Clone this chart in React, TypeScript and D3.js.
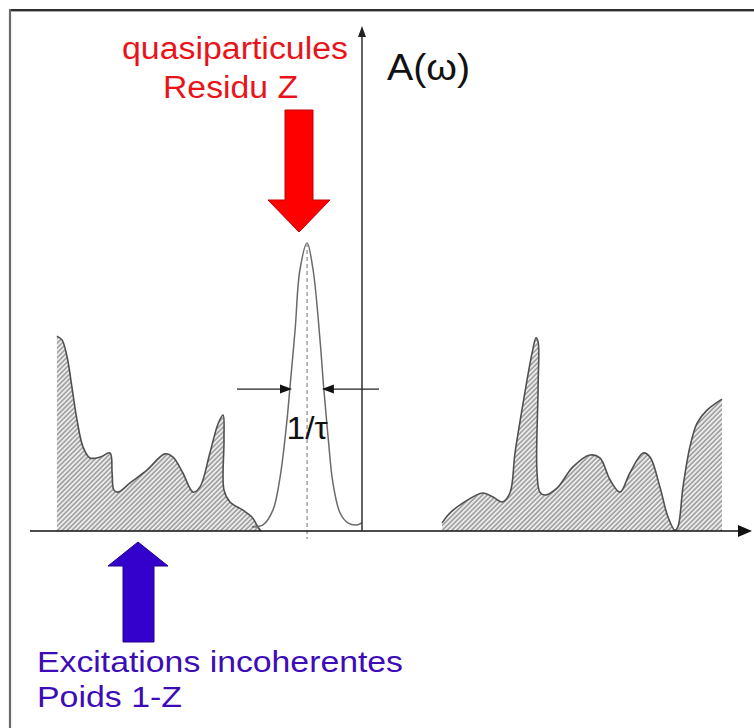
import React from "react";
import * as d3 from "d3";

// ---- data (ω in arbitrary units, A(ω) normalised) ----
const incoherentLeft: [number, number][] = [
  [-10.17, 0.672], [-10.0, 0.659], [-9.83, 0.6], [-9.67, 0.497], [-9.5, 0.383],
  [-9.3, 0.29], [-9.07, 0.252], [-8.73, 0.255], [-8.4, 0.269], [-8.33, 0.2],
  [-8.27, 0.141], [-8.13, 0.134], [-7.73, 0.166], [-7.17, 0.21], [-6.57, 0.266],
  [-6.3, 0.255], [-5.97, 0.2], [-5.63, 0.134], [-5.4, 0.152], [-5.07, 0.269],
  [-4.8, 0.369], [-4.63, 0.4], [-4.6, 0.314], [-4.6, 0.141], [-4.4, 0.1],
  [-3.97, 0.072], [-3.67, 0.048], [-3.47, 0.014], [-3.37, 0.0],
];

const quasiparticlePeak: [number, number][] = [
  [-3.67, 0.014], [-3.3, 0.021], [-2.97, 0.072], [-2.73, 0.186], [-2.5, 0.383],
  [-2.4, 0.497], [-2.23, 0.693], [-2.07, 0.9], [-1.83, 0.993], [-1.63, 0.9],
  [-1.4, 0.659], [-1.27, 0.486], [-1.13, 0.324], [-0.97, 0.166], [-0.73, 0.062],
  [-0.47, 0.028], [-0.17, 0.021], [0.0, 0.028],
];

const incoherentRight: [number, number][] = [
  [2.67, 0.028], [2.93, 0.062], [3.37, 0.097], [4.03, 0.131], [4.37, 0.117],
  [4.67, 0.1], [4.93, 0.131], [5.1, 0.269], [5.37, 0.441], [5.67, 0.614],
  [5.8, 0.666], [5.87, 0.652], [5.87, 0.497], [5.83, 0.21], [5.93, 0.134],
  [6.1, 0.124], [6.5, 0.148], [7.03, 0.221], [7.6, 0.262], [7.93, 0.252],
  [8.27, 0.176], [8.6, 0.134], [8.93, 0.2], [9.37, 0.269], [9.6, 0.255],
  [9.93, 0.152], [10.2, 0.048], [10.43, 0.003], [10.53, 0.014], [10.7, 0.152],
  [10.93, 0.29], [11.17, 0.372], [11.5, 0.417], [12.0, 0.455],
];

const peakCenter = -1.83;
const halfWidthLeft = -2.4;
const halfWidthRight = -1.27;
const halfLevel = 0.486;

const axisLabel = "A(ω)";
const widthLabel = "1/τ";
const qpLabels = ["quasiparticules", "Residu Z"];
const incLabels = ["Excitations incoherentes", "Poids 1-Z"];

const W = 754;
const H = 728;

export default function App() {
  const x = d3.scaleLinear().domain([-11, 13]).range([32, 752]);
  const y = d3.scaleLinear().domain([0, 1]).range([531, 241]);

  const line = d3
    .line<[number, number]>()
    .x((d) => x(d[0]))
    .y((d) => y(d[1]))
    .curve(d3.curveCatmullRom.alpha(0.5));

  const regionFill = (pts: [number, number][]) => {
    const first = pts[0];
    const last = pts[pts.length - 1];
    return (
      `M${x(first[0])},${y(0)}` +
      (line(pts) as string).replace(/^M/, "L") +
      `L${x(last[0])},${y(0)}Z`
    );
  };

  const font = "'Liberation Sans', Arial, sans-serif";
  const red = "#e8141a";
  const purple = "#3d0cb8";

  const x0 = x(0);
  const yBase = y(0);
  const pc = x(peakCenter);
  const hy = y(halfLevel) - 1;
  const hl = x(halfWidthLeft);
  const hr = x(halfWidthRight);

  return (
    <svg
      width={W}
      height={H}
      style={{ position: "absolute", left: 0, top: 0, background: "#fff" }}
    >
      <defs>
        <pattern
          id="hatch"
          patternUnits="userSpaceOnUse"
          width={3.4}
          height={3.4}
          patternTransform="rotate(45)"
        >
          <rect width={3.4} height={3.4} fill="#ececec" />
          <line x1={0.9} y1={0} x2={0.9} y2={3.4} stroke="#858585" strokeWidth={1.2} />
        </pattern>
      </defs>

      {/* frame */}
      <line x1={9} y1={10} x2={W} y2={10} stroke="#2e2e2e" strokeWidth={2} />
      <line x1={W} y1={11.5} x2={9} y2={11.5} stroke="#aaa" strokeWidth={1} />
      <line x1={10} y1={9} x2={10} y2={H} stroke="#6a6a6a" strokeWidth={2.2} />

      {/* incoherent regions */}
      {[incoherentLeft, incoherentRight].map((pts, i) => (
        <g key={i}>
          <path d={regionFill(pts)} fill="url(#hatch)" stroke="none" />
          <path d={line(pts) as string} fill="none" stroke="#505050" strokeWidth={1.6} />
        </g>
      ))}

      {/* quasiparticle peak */}
      <path d={line(quasiparticlePeak) as string} fill="none" stroke="#6a6a6a" strokeWidth={1.5} />
      <line
        x1={pc}
        y1={y(0.993)}
        x2={pc}
        y2={yBase + 8}
        stroke="#9a9a9a"
        strokeWidth={1.4}
        strokeDasharray="4,3"
      />

      {/* axes */}
      <line x1={30} y1={yBase} x2={742} y2={yBase} stroke="#111" strokeWidth={1.6} />
      <path d={`M${752},${yBase} L${738},${yBase - 6} L${738},${yBase + 6} Z`} fill="#111" />
      <line x1={x0} y1={yBase} x2={x0} y2={34} stroke="#222" strokeWidth={1.4} />
      <path d={`M${x0},${26} L${x0 - 4},${37} L${x0 + 4},${37} Z`} fill="#222" />

      {/* width arrows */}
      <line x1={237} y1={hy} x2={hl - 2} y2={hy} stroke="#222" strokeWidth={1.3} />
      <path d={`M${hl + 2},${hy} L${hl - 10},${hy - 4.5} L${hl - 10},${hy + 4.5} Z`} fill="#111" />
      <line x1={379} y1={hy} x2={hr + 2} y2={hy} stroke="#222" strokeWidth={1.3} />
      <path d={`M${hr - 2},${hy} L${hr + 10},${hy - 4.5} L${hr + 10},${hy + 4.5} Z`} fill="#111" />
      <text
        x={pc}
        y={439}
        textAnchor="middle"
        fontFamily={font}
        fontSize={31}
        fill="#111"
        textLength={41}
        lengthAdjust="spacingAndGlyphs"
      >
        {widthLabel}
      </text>

      {/* A(ω) label */}
      <text
        x={387}
        y={80}
        fontFamily={font}
        fontSize={37}
        fill="#111"
        textLength={83}
        lengthAdjust="spacingAndGlyphs"
      >
        {axisLabel}
      </text>

      {/* quasiparticle annotation */}
      <text
        x={122}
        y={59}
        fontFamily={font}
        fontSize={31}
        fill={red}
        textLength={226}
        lengthAdjust="spacingAndGlyphs"
      >
        {qpLabels[0]}
      </text>
      <text
        x={163}
        y={98}
        fontFamily={font}
        fontSize={31}
        fill={red}
        textLength={135}
        lengthAdjust="spacingAndGlyphs"
      >
        {qpLabels[1]}
      </text>
      <path
        d="M285,110 L313,110 L313,200 L330,200 L299,232 L268,200 L285,200 Z"
        fill="#ff0000"
        stroke="#c00000"
        strokeWidth={1}
      />

      {/* incoherent annotation */}
      <path
        d="M138,542 L168,566 L154,566 L154,642 L123,642 L123,566 L108,566 Z"
        fill="#3300cc"
        stroke="#22008a"
        strokeWidth={1}
      />
      <text
        x={37}
        y={672}
        fontFamily={font}
        fontSize={30}
        fill={purple}
        textLength={366}
        lengthAdjust="spacingAndGlyphs"
      >
        {incLabels[0]}
      </text>
      <text
        x={37}
        y={707}
        fontFamily={font}
        fontSize={30}
        fill={purple}
        textLength={145}
        lengthAdjust="spacingAndGlyphs"
      >
        {incLabels[1]}
      </text>
    </svg>
  );
}
